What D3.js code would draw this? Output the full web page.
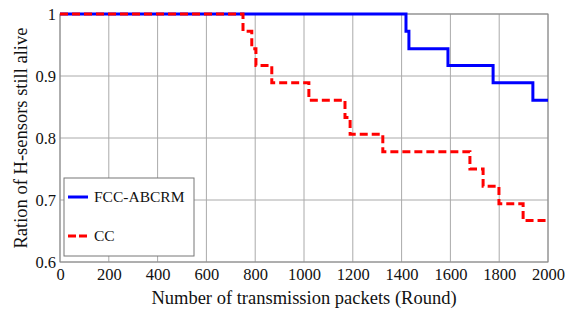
<!DOCTYPE html>
<html lang="en">
<head>
<meta charset="utf-8">
<title></title>
<script src="https://d3js.org/d3.v7.min.js"></script>
<style type="text/css">
  body { margin: 0; background: #fff; }
  text { font-family: "Liberation Serif", "Times New Roman", serif; fill: #111; }
  .grid line { stroke: #aaa; stroke-width: 1px; }
  .tick text { font-size: 16.5px; }
  .lineBlue { fill: none; stroke: blue; stroke-width: 3px; }
  .lineRed { fill: none; stroke: red; stroke-width: 3px; stroke-dasharray: 8 4; }
</style>
</head>
<body>
<svg width="570" height="310"></svg>
<script>
// data
var xTicks = [0, 200, 400, 600, 800, 1000, 1200, 1400, 1600, 1800, 2000];
var yTicks = [0.6, 0.7, 0.8, 0.9, 1];

var blueX = [0, 1418, 1430, 1590, 1775, 1938, 2000];
var blueY = [1, 0.972, 0.944, 0.917, 0.889, 0.861, 0.861];

var redX = [0, 750, 786, 803, 868, 1020, 1168, 1189, 1323, 1680, 1734, 1799, 1898, 2000];
var redY = [1, 0.972, 0.944, 0.917, 0.889, 0.861, 0.833, 0.806, 0.778, 0.75, 0.722, 0.694, 0.667, 0.667];

var seriesNames = ["FCC-ABCRM", "CC"];

var svg = d3.select("svg");
var margin = {top: 14, right: 22, bottom: 48, left: 60};
var width = +svg.attr("width") - margin.left - margin.right;
var height = +svg.attr("height") - margin.top - margin.bottom;
var g = svg.append("g").attr("transform", `translate(${margin.left}, ${margin.top})`);

var xScale = d3.scaleLinear().domain([0, 2000]).range([0, width]);
var yScale = d3.scaleLinear().domain([0.6, 1]).range([height, 0]);

// grid
g.append("g").attr("class", "grid")
  .selectAll("line.v").data(xTicks).join("line")
  .attr("x1", d => xScale(d)).attr("x2", d => xScale(d))
  .attr("y1", 0).attr("y2", height);
g.append("g").attr("class", "grid")
  .selectAll("line.h").data(yTicks).join("line")
  .attr("x1", 0).attr("x2", width)
  .attr("y1", d => yScale(d)).attr("y2", d => yScale(d));

// axes
var xAxis = g.append("g")
  .attr("transform", `translate(0, ${height})`)
  .call(d3.axisBottom(xScale).tickValues(xTicks).tickFormat(d3.format("d")).tickSize(0).tickPadding(6));
var yAxis = g.append("g")
  .call(d3.axisLeft(yScale).tickValues(yTicks).tickFormat(d => d === 1 ? "1" : d3.format(".1f")(d)).tickSize(0).tickPadding(4));
xAxis.select(".domain").remove();
yAxis.select(".domain").remove();
g.selectAll(".tick text").attr("fill", "#111");

g.append("rect")
  .attr("width", width).attr("height", height)
  .attr("fill", "none").attr("stroke", "#888").attr("stroke-width", 1);

var line = d3.line()
  .x(d => xScale(d[0]))
  .y(d => yScale(d[1]))
  .curve(d3.curveStepAfter);

g.append("path")
  .datum(d3.zip(blueX, blueY))
  .attr("class", "lineBlue")
  .attr("d", line);

g.append("path")
  .datum(d3.zip(redX, redY))
  .attr("class", "lineRed")
  .attr("d", line);

// legend
var leg = svg.append("g").attr("transform", "translate(64, 178)");
leg.append("rect").attr("width", 130).attr("height", 78)
  .attr("fill", "#fff").attr("stroke", "#777").attr("stroke-width", 1);
leg.append("line").attr("class", "lineBlue").attr("x1", 4).attr("x2", 24).attr("y1", 19).attr("y2", 19);
leg.append("line").attr("class", "lineRed").attr("x1", 4).attr("x2", 24).attr("y1", 58).attr("y2", 58)
  .style("stroke-dasharray", "8 3");
leg.append("text").attr("x", 30).attr("y", 24).attr("font-size", 15.5).text(seriesNames[0]);
leg.append("text").attr("x", 30).attr("y", 63).attr("font-size", 15.5).text(seriesNames[1]);

// axis titles
svg.append("text")
  .attr("x", margin.left + width / 2).attr("y", 304)
  .attr("text-anchor", "middle").attr("font-size", 18.5)
  .text("Number of transmission packets (Round)");
svg.append("text")
  .attr("transform", `translate(27, ${margin.top + height / 2}) rotate(-90)`)
  .attr("text-anchor", "middle").attr("font-size", 18.5)
  .text("Ration of H-sensors still alive");
</script>
</body>
</html>
